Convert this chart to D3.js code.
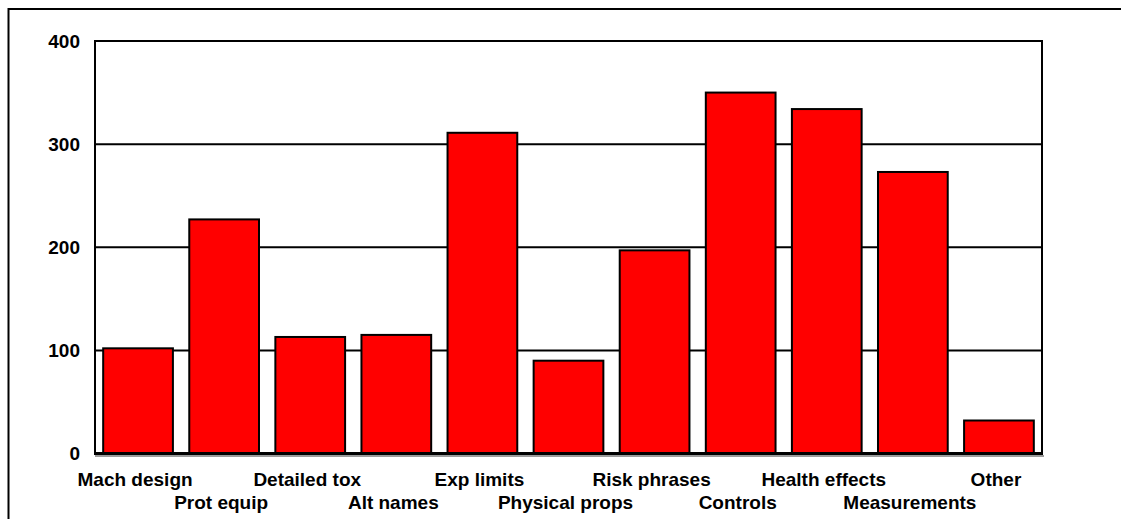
<!DOCTYPE html>
<html>
<head>
<meta charset="utf-8">
<script src="https://cdn.jsdelivr.net/npm/d3@7"></script>
<style>
  html, body { margin: 0; padding: 0; background: #fff; }
  svg { display: block; }
  text { font-family: "Liberation Sans", Arial, sans-serif; font-weight: bold; fill: #000; }
</style>
</head>
<body>
<svg id="chart" width="1121" height="519"></svg>
<script>
// Number of mentions per information topic
const categories = ["Mach design", "Prot equip", "Detailed tox", "Alt names", "Exp limits",
  "Physical props", "Risk phrases", "Controls", "Health effects", "Measurements", "Other"];
const counts = [102, 227, 113, 115, 311, 90, 197, 350, 334, 273, 32];
const yTicks = [0, 100, 200, 300, 400];

const svg = d3.select("#chart");
const plot = { left: 95, right: 1042, top: 41, bottom: 453.5 };

// Outer chart frame (runs past the right and bottom edges of the page)
svg.append("rect")
  .attr("x", 8.5).attr("y", 9)
  .attr("width", 1200).attr("height", 600)
  .attr("fill", "none").attr("stroke", "#000").attr("stroke-width", 2);

const x = d3.scaleBand()
  .domain(categories)
  .range([plot.left, plot.right])
  .paddingInner(0.19)
  .paddingOuter(0.095);

const y = d3.scaleLinear()
  .domain([0, 400])
  .range([plot.bottom, plot.top]);

// Horizontal gridlines
svg.append("g")
  .selectAll("line")
  .data(yTicks.filter(d => d > 0))
  .join("line")
  .attr("x1", plot.left).attr("x2", plot.right)
  .attr("y1", d => y(d)).attr("y2", d => y(d))
  .attr("stroke", "#000").attr("stroke-width", 2);

// Plot frame: left and right edges
svg.append("line")
  .attr("x1", plot.left).attr("x2", plot.left)
  .attr("y1", plot.top - 1).attr("y2", plot.bottom)
  .attr("stroke", "#000").attr("stroke-width", 2);
svg.append("line")
  .attr("x1", plot.right).attr("x2", plot.right)
  .attr("y1", plot.top - 1).attr("y2", plot.bottom)
  .attr("stroke", "#000").attr("stroke-width", 2);

// Y axis labels
const yAxis = d3.axisLeft(y).tickValues(yTicks).tickSize(0).tickPadding(15).tickFormat(d3.format("d"));
const gy = svg.append("g")
  .attr("transform", `translate(${plot.left},0)`)
  .call(yAxis);
gy.select(".domain").remove();
gy.selectAll("text")
  .attr("font-size", 19)
  .attr("font-family", "Liberation Sans, Arial, sans-serif")
  .attr("font-weight", "bold")
  .attr("fill", "#000");

// Bars
svg.append("g")
  .selectAll("rect")
  .data(categories.map((c, i) => ({ c, v: counts[i] })))
  .join("rect")
  .attr("x", d => x(d.c))
  .attr("y", d => y(d.v))
  .attr("width", x.bandwidth())
  .attr("height", d => y(0) - y(d.v))
  .attr("fill", "#ff0000")
  .attr("stroke", "#000")
  .attr("stroke-width", 2);

// Baseline with a soft shadow beneath it
svg.append("line")
  .attr("x1", plot.left).attr("x2", plot.right + 2)
  .attr("y1", plot.bottom + 2.5).attr("y2", plot.bottom + 2.5)
  .attr("stroke", "#9a9a9a").attr("stroke-width", 2);
svg.append("line")
  .attr("x1", plot.left - 1).attr("x2", plot.right + 1)
  .attr("y1", plot.bottom).attr("y2", plot.bottom)
  .attr("stroke", "#000").attr("stroke-width", 3);

// Category labels, staggered over two rows
const xAxis = d3.axisBottom(x).tickSize(0).tickPadding(0);
const gx = svg.append("g")
  .attr("transform", `translate(-3,${plot.bottom})`)
  .call(xAxis);
gx.select(".domain").remove();
gx.selectAll("text")
  .attr("font-size", 19)
  .attr("font-family", "Liberation Sans, Arial, sans-serif")
  .attr("font-weight", "bold")
  .attr("fill", "#000")
  .attr("dy", null)
  .attr("y", (d, i) => i % 2 === 0 ? 32 : 55);
</script>
</body>
</html>
